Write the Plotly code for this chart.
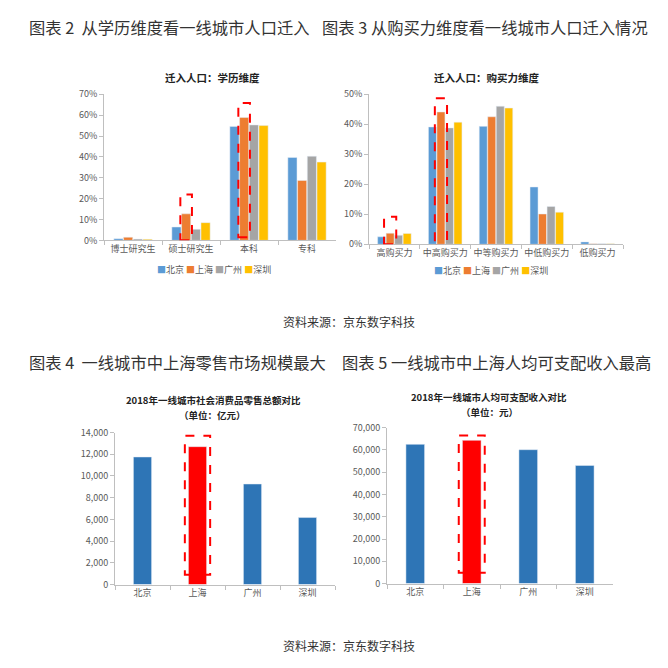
import plotly.graph_objects as go

# ---------------- data ----------------
cities = ["北京", "上海", "广州", "深圳"]
city_colors = ["#5B9BD5", "#ED7D31", "#A5A5A5", "#FFC000"]

edu_categories = ["博士研究生", "硕士研究生", "本科", "专科"]
edu_beijing = [0.8, 6.4, 54.6, 39.7]
edu_shanghai = [1.5, 12.7, 58.9, 28.7]
edu_guangzhou = [0.6, 5.3, 55.3, 40.3]
edu_shenzhen = [0.5, 8.5, 55.0, 37.5]

buy_categories = ["高购买力", "中高购买力", "中等购买力", "中低购买力", "低购买力"]
buy_beijing = [2.5, 39.1, 39.3, 19.1, 0.8]
buy_shanghai = [3.7, 44.1, 42.5, 10.1, 0.2]
buy_guangzhou = [3.0, 38.8, 46.0, 12.6, 0.2]
buy_shenzhen = [3.6, 40.7, 45.4, 10.7, 0.2]

retail_values = [11750, 12700, 9260, 6170]   # 亿元
income_values = [62500, 64300, 60100, 53000]  # 元

edu_ticks = [0, 10, 20, 30, 40, 50, 60, 70]
buy_ticks = [0, 10, 20, 30, 40, 50]
retail_ticks = [0, 2000, 4000, 6000, 8000, 10000, 12000, 14000]
income_ticks = [0, 10000, 20000, 30000, 40000, 50000, 60000, 70000]

# ---------------- figure ----------------
W = H = 668
FONT = "Noto Sans CJK SC, Noto Sans, sans-serif"
AXC = "#BFBFBF"
TXT = "#595959"

def px(x):
    return x / W

def py(y):
    return 1 - y / H

fig = go.Figure()

edu_series = [edu_beijing, edu_shanghai, edu_guangzhou, edu_shenzhen]
buy_series = [buy_beijing, buy_shanghai, buy_guangzhou, buy_shenzhen]

for name, col, vals in zip(cities, city_colors, edu_series):
    fig.add_trace(go.Bar(x=edu_categories, y=vals, name=name, marker_color=col,
                         xaxis="x", yaxis="y", showlegend=False))
for name, col, vals in zip(cities, city_colors, buy_series):
    fig.add_trace(go.Bar(x=buy_categories, y=vals, name=name, marker_color=col,
                         xaxis="x2", yaxis="y2", showlegend=False))

bottom_colors = ["#FF0000" if c == "上海" else "#2E75B6" for c in cities]
fig.add_trace(go.Bar(x=cities, y=retail_values, marker_color=bottom_colors, width=0.33,
                     xaxis="x3", yaxis="y3", showlegend=False))
fig.add_trace(go.Bar(x=cities, y=income_values, marker_color=bottom_colors, width=0.33,
                     xaxis="x4", yaxis="y4", showlegend=False))

def xax(domain, anchor):
    return dict(domain=domain, anchor=anchor, showline=True, linecolor=AXC, linewidth=1,
                ticks="outside", tickson="boundaries", ticklen=4, tickcolor=AXC,
                tickangle=0,
                tickfont=dict(family=FONT, size=9, color=TXT), showgrid=False,
                fixedrange=True)

def yax(domain, anchor, rng, ticks, fmt_pct=False):
    d = dict(domain=domain, anchor=anchor, range=rng, showline=True, linecolor=AXC,
             linewidth=1, ticks="outside", ticklen=4, tickcolor=AXC, showgrid=False,
             zeroline=False, tickvals=ticks,
             tickfont=dict(family=FONT, size=9, color=TXT))
    if fmt_pct:
        d["ticktext"] = [f"{t}%" for t in ticks]
    else:
        d["ticktext"] = [f"{t:,}" for t in ticks]
    return d

fig.update_layout(
    width=W, height=H, margin=dict(l=0, r=0, t=0, b=0),
    paper_bgcolor="white", plot_bgcolor="white",
    barmode="group", bargap=0.33, bargroupgap=0.06,
    font=dict(family=FONT, color=TXT),
    xaxis=xax([px(104), px(336)], "y"),
    yaxis=yax([py(238), py(89)], "x", [0, 70], edu_ticks, True),
    xaxis2=xax([px(369), px(623)], "y2"),
    yaxis2=yax([py(242), py(89)], "x2", [0, 50], buy_ticks, True),
    xaxis3=xax([px(115), px(335)], "y3"),
    yaxis3=yax([py(589), py(434)], "x3", [0, 14000], retail_ticks),
    xaxis4=xax([px(387), px(613)], "y4"),
    yaxis4=yax([py(588), py(429)], "x4", [0, 70000], income_ticks),
)

# ---------------- highlight boxes ----------------
sh = cities.index("上海")
slot = (1 - 0.33) / 4
off = -(1 - 0.33) / 2 + slot * (sh + 0.5)
red = dict(color="#FF0000", width=2, dash="dash")

def box(xref, yref, xc, half, y0, y1):
    fig.add_shape(type="rect", xref=xref, yref=yref, x0=xc - half, x1=xc + half,
                  y0=y0, y1=y1, line=red, fillcolor="rgba(0,0,0,0)", layer="above")

box("x", "y", edu_categories.index("硕士研究生") + off, 0.1, 0, 22)
box("x", "y", edu_categories.index("本科") + off, 0.1, 1.5, 65.8)
box("x2", "y2", buy_categories.index("高购买力") + off, 0.12, 0, 9.2)
box("x2", "y2", buy_categories.index("中高购买力") + off, 0.12, -0.5, 48.7)
box("x3", "y3", sh, 0.23, 900, 13700)
box("x4", "y4", sh, 0.23, 4800, 66500)

# ---------------- texts ----------------
HDR = dict(family=FONT, size=16.3, color="#333333")
ann = []
ann.append(dict(text="图表 2  从学历维度看一线城市人口迁入", x=px(27), y=py(20),
                xanchor="left", yanchor="middle", font=HDR))
ann.append(dict(text="图表 3 从购买力维度看一线城市人口迁入情况", x=px(320), y=py(20),
                xanchor="left", yanchor="middle", font=HDR))
ann.append(dict(text="图表 4  一线城市中上海零售市场规模最大", x=px(27), y=py(362),
                xanchor="left", yanchor="middle", font=HDR))
ann.append(dict(text="图表 5 一线城市中上海人均可支配收入最高", x=px(340), y=py(362),
                xanchor="left", yanchor="middle", font=HDR))
for yy in (321, 651):
    ann.append(dict(text="资料来源：京东数字科技", x=px(349), y=py(yy), xanchor="center",
                    yanchor="middle", font=dict(family=FONT, size=12, color="#333333")))

TT = dict(family=FONT, size=10.5, color="#222222")
ST = dict(family=FONT, size=9.5, color="#222222")
ann.append(dict(text="<b>迁入人口：学历维度</b>", x=px(212), y=py(72), xanchor="center",
                yanchor="middle", font=TT))
ann.append(dict(text="<b>迁入人口：购买力维度</b>", x=px(487), y=py(72), xanchor="center",
                yanchor="middle", font=TT))
ann.append(dict(text="<b>2018年一线城市社会消费品零售总额对比</b>",
                x=px(213), y=py(401), xanchor="center", yanchor="middle", font=ST))
ann.append(dict(text="<b>（单位：亿元）</b>",
                x=px(212), y=py(416), xanchor="center", yanchor="middle", font=ST))
ann.append(dict(text="<b>2018年一线城市人均可支配收入对比</b>",
                x=px(489), y=py(398), xanchor="center", yanchor="middle", font=ST))
ann.append(dict(text="<b>（单位：元）</b>",
                x=px(489), y=py(413), xanchor="center", yanchor="middle", font=ST))

legend_text = " ".join(f"<span style='color:{c}'>■</span>{n}" for n, c in zip(cities, city_colors))
ann.append(dict(text=legend_text, x=px(214), y=py(268), xanchor="center", yanchor="middle",
                font=dict(family=FONT, size=9, color=TXT)))
ann.append(dict(text=legend_text, x=px(491), y=py(269), xanchor="center", yanchor="middle",
                font=dict(family=FONT, size=9, color=TXT)))

for a in ann:
    a.update(xref="paper", yref="paper", showarrow=False)
fig.update_layout(annotations=ann)

fig.write_html("out.html")
